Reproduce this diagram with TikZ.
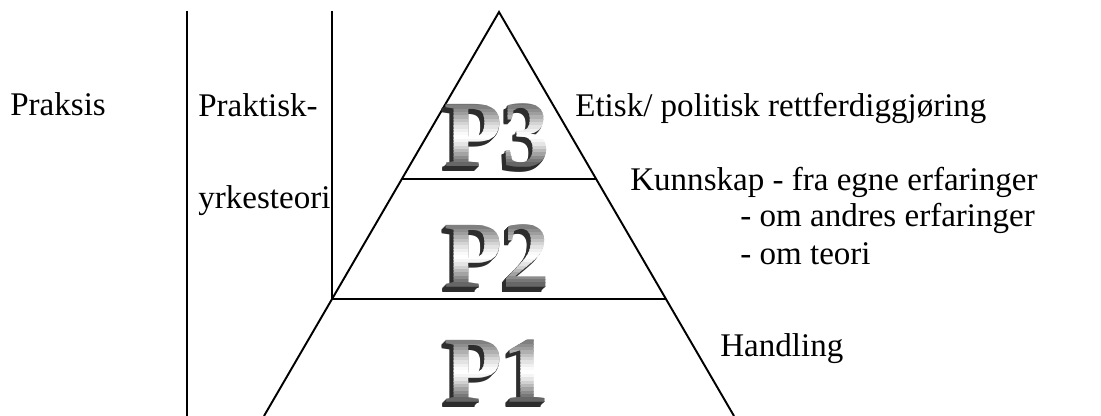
\documentclass[tikz,border=0pt]{standalone}
\usepackage{fontspec}
\setmainfont{Liberation Serif}
\usetikzlibrary{calc}

\newcommand{\bigletters}{\fontsize{54}{54}\selectfont\bfseries}

\tikzset{
  txt/.style={anchor=base west, inner sep=0pt, font=\fontsize{18.8}{22}\selectfont},
  side/.style={inner sep=0pt, font=\bigletters, text=gray!35!black},
  face/.style={inner sep=0pt, font=\bigletters}
}

\begin{document}
\begin{tikzpicture}
  \useasboundingbox (0,0) rectangle (22.02,8.32);
  % pyramid
  \coordinate (top) at (9.98,8.08);
  \coordinate (bl) at (5.28,0);
  \coordinate (br) at (14.68,0);
  \coordinate (l3) at ($(top)!0.4134!(bl)$);
  \coordinate (r3) at ($(top)!0.4134!(br)$);
  \coordinate (l2) at ($(top)!0.7104!(bl)$);
  \coordinate (r2) at ($(top)!0.7104!(br)$);
  \draw[line width=1.1pt] (bl) -- (top) -- (br);
  \draw[line width=1.3pt] (l3) -- (r3);
  \draw[line width=1.3pt] (l2) -- (r2);
  % columns on the left
  \draw[line width=1pt] (3.74,8.1) -- (3.74,0);
  \draw[line width=1pt] (l2 |- 0,8.1) -- (l2);

  % big letters, extruded with a metal look
  \coordinate (p3) at (9.95,5.6);
  \coordinate (p2) at (9.95,3.2);
  \coordinate (p1) at (9.95,0.9);
  \foreach \p/\t in {p3/P3,p2/P2,p1/P1} {
    \foreach \k in {1,...,6}
      \node[side] (\p s\k) at ($(\p)+(-\k*0.45pt,-\k*0.45pt)$) {\t};
    \foreach \g [count=\i from 0] in {55,50,44,38,31,24,17,11,6,2,0,4,10,18,27,36,45,53,60,66} {
      \begin{scope}
        \clip ($(\p)+(-1.5,0.67-\i*0.067)$) rectangle ($(\p)+(1.5,0.60-\i*0.067)$);
        \node[face, text=black!\g] (\p f\i) at (\p) {\t};
      \end{scope}
    }
  }

  % texts
  \node[txt] (praksis) at (0.2,6.0) {Praksis};
  \node[txt] (praktisk) at (3.96,5.98) {Praktisk-};
  \node[txt] (yrke) at (3.96,4.14) {yrkesteori};
  \node[txt] (etisk) at (11.5,5.98) {Etisk/ politisk rettferdiggjøring};
  \node[txt] (kunnskap) at (12.6,4.5) {Kunnskap - fra egne erfaringer};
  \node[txt] (andres) at (14.8,3.79) {- om andres erfaringer};
  \node[txt] (teori) at (14.8,3.02) {- om teori};
  \node[txt] (handling) at (14.4,1.18) {Handling};
\end{tikzpicture}
\end{document}
